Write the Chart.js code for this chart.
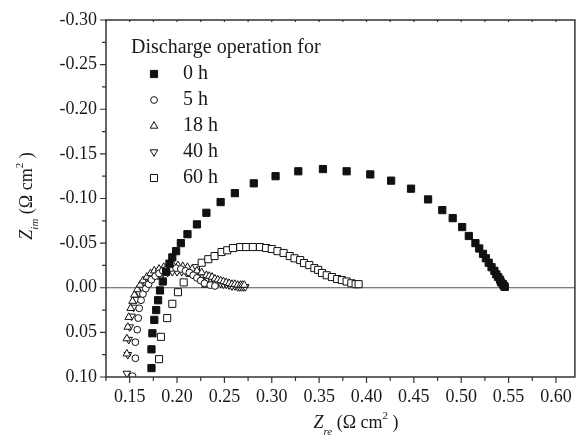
<!DOCTYPE html>
<html>
<head>
<meta charset="utf-8">
<script src="https://cdn.jsdelivr.net/npm/chart.js@4.4.1/dist/chart.umd.min.js"></script>
<style>
  html, body { margin: 0; padding: 0; background: #fff; }
</style>
</head>
<body>
<canvas id="nyquist" width="581" height="442"></canvas>
<script>
// Impedance spectra, [Zre, Zim] in ohm cm2 (Zim axis is drawn reversed)
const h0 = [
  [0.173, 0.090], [0.173, 0.069], [0.174, 0.051], [0.176, 0.036], [0.178, 0.025],
  [0.180, 0.014], [0.182, 0.003], [0.185, -0.007], [0.1885, -0.018], [0.192, -0.027],
  [0.195, -0.034], [0.199, -0.041], [0.204, -0.050], [0.211, -0.060], [0.221, -0.071],
  [0.231, -0.084], [0.246, -0.096], [0.261, -0.106], [0.281, -0.117], [0.304, -0.125],
  [0.328, -0.1305], [0.354, -0.133], [0.379, -0.1305], [0.404, -0.127], [0.426, -0.120],
  [0.447, -0.111], [0.465, -0.099], [0.480, -0.087], [0.491, -0.078], [0.501, -0.068],
  [0.508, -0.058], [0.515, -0.050], [0.519, -0.044], [0.523, -0.038], [0.526, -0.033],
  [0.529, -0.028], [0.532, -0.023], [0.535, -0.019], [0.537, -0.015], [0.539, -0.012],
  [0.541, -0.009], [0.542, -0.006], [0.544, -0.004], [0.545, -0.002], [0.546, -0.001]
];
const h5 = [
  [0.153, 0.099], [0.156, 0.079], [0.156, 0.061], [0.158, 0.047], [0.159, 0.034],
  [0.160, 0.023], [0.162, 0.014], [0.164, 0.007], [0.167, 0.001], [0.170, -0.004],
  [0.173, -0.009], [0.177, -0.013], [0.181, -0.016], [0.185, -0.019], [0.189, -0.021],
  [0.194, -0.022], [0.199, -0.022], [0.204, -0.021], [0.209, -0.019], [0.213, -0.017],
  [0.217, -0.014], [0.221, -0.011], [0.225, -0.008], [0.229, -0.005], [0.235, -0.003],
  [0.240, -0.002]
];
const h18 = [
  [0.147, 0.074], [0.147, 0.057], [0.148, 0.044], [0.149, 0.033], [0.151, 0.023],
  [0.153, 0.015], [0.155, 0.008], [0.158, 0.002], [0.161, -0.003], [0.164, -0.008],
  [0.168, -0.012], [0.172, -0.016], [0.176, -0.019], [0.181, -0.021], [0.186, -0.023],
  [0.191, -0.024], [0.196, -0.025], [0.201, -0.025], [0.206, -0.024], [0.211, -0.023],
  [0.216, -0.021], [0.221, -0.019], [0.226, -0.017], [0.230, -0.003], [0.231, -0.014],
  [0.234, -0.013], [0.237, -0.012], [0.240, -0.010], [0.243, -0.009], [0.246, -0.008],
  [0.249, -0.007], [0.252, -0.006], [0.255, -0.005], [0.258, -0.004], [0.261, -0.004],
  [0.264, -0.003], [0.267, -0.003], [0.269, -0.003], [0.271, -0.003]
];
const h40 = [
  [0.147, 0.096], [0.148, 0.075], [0.149, 0.058], [0.150, 0.044], [0.152, 0.032],
  [0.154, 0.022], [0.157, 0.013], [0.160, 0.006], [0.163, 0.000], [0.167, -0.005],
  [0.171, -0.009], [0.175, -0.012], [0.180, -0.014], [0.185, -0.016], [0.190, -0.017],
  [0.195, -0.018], [0.200, -0.018], [0.205, -0.018], [0.210, -0.017], [0.215, -0.016],
  [0.220, -0.015], [0.224, -0.013], [0.228, -0.012], [0.232, -0.010], [0.236, -0.009],
  [0.240, -0.007], [0.243, -0.006], [0.246, -0.005], [0.249, -0.004], [0.252, -0.004],
  [0.255, -0.003], [0.258, -0.002], [0.261, -0.002], [0.264, -0.001], [0.266, -0.001],
  [0.268, -0.001], [0.270, -0.001], [0.272, -0.001]
];
const h60 = [
  [0.181, 0.080], [0.183, 0.055], [0.1896, 0.034], [0.195, 0.018], [0.201, 0.005],
  [0.207, -0.006], [0.2135, -0.0165], [0.220, -0.022], [0.226, -0.028], [0.233, -0.032],
  [0.2396, -0.0355], [0.247, -0.040], [0.253, -0.042], [0.259, -0.0445], [0.2667, -0.0456],
  [0.273, -0.0456], [0.280, -0.0456], [0.2875, -0.0456], [0.294, -0.0445], [0.300, -0.0434],
  [0.306, -0.041], [0.3125, -0.039], [0.319, -0.0355], [0.324, -0.033], [0.330, -0.031],
  [0.334, -0.0277], [0.3396, -0.0254], [0.345, -0.022], [0.349, -0.020], [0.353, -0.0165],
  [0.358, -0.014], [0.3635, -0.012], [0.369, -0.0098], [0.374, -0.0086], [0.379, -0.007],
  [0.384, -0.005], [0.3885, -0.004], [0.3917, -0.004]
];

const seriesLabels = ['0 h', '5 h', '18 h', '40 h', '60 h'];
const legendTitle = 'Discharge operation for';
const xTickLabels = ['0.15', '0.20', '0.25', '0.30', '0.35', '0.40', '0.45', '0.50', '0.55', '0.60'];
const yTickLabels = ['-0.30', '-0.25', '-0.20', '-0.15', '-0.10', '-0.05', '0.00', '0.05', '0.10'];

const serif = '"Liberation Serif", "Times New Roman", serif';
const ink = '#1a1a1a';

const toPts = arr => arr.map(p => ({ x: p[0], y: p[1] }));

// marker looks, one per series
const markers = [
  { style: 'rect', radius: 5.1, rotation: 0, fill: '#111' },
  { style: 'circle', radius: 3.4, rotation: 0, fill: '#fff' },
  { style: 'triangle', radius: 4.4, rotation: 0, fill: '#fff' },
  { style: 'triangle', radius: 4.4, rotation: 180, fill: '#fff' },
  { style: 'rect', radius: 5.0, rotation: 0, fill: '#fff' }
];

const datasets = [h0, h5, h18, h40, h60].map((arr, i) => ({
  label: seriesLabels[i],
  data: toPts(arr),
  showLine: false,
  pointStyle: markers[i].style,
  pointRadius: markers[i].radius,
  pointRotation: markers[i].rotation,
  pointBackgroundColor: markers[i].fill,
  pointBorderColor: '#111',
  pointBorderWidth: 1
}));

const xMajor = xTickLabels.map(Number);
const yMajor = yTickLabels.map(Number);

function withMinors(major, min, max) {
  const out = [];
  const step = major[1] - major[0];
  const first = major[0] - step / 2;
  for (let v = first; v <= max + 1e-9; v += step / 2) {
    if (v >= min - 1e-9) out.push(Math.round(v * 1000) / 1000);
  }
  return out;
}
const isMajor = (v, list) => list.some(m => Math.abs(m - v) < 1e-6);

// hand made marker drawing for the legend
function drawMarker(ctx, m, x, y) {
  ctx.save();
  ctx.beginPath();
  ctx.fillStyle = m.fill;
  ctx.strokeStyle = '#111';
  ctx.lineWidth = 1;
  if (m.style === 'rect') {
    const s = Math.SQRT1_2 * m.radius;
    ctx.rect(x - s, y - s, 2 * s, 2 * s);
  } else if (m.style === 'circle') {
    ctx.arc(x, y, m.radius, 0, Math.PI * 2);
  } else {
    let a = m.rotation * Math.PI / 180;
    ctx.moveTo(x + Math.sin(a) * m.radius, y - Math.cos(a) * m.radius);
    a += 2 * Math.PI / 3;
    ctx.lineTo(x + Math.sin(a) * m.radius, y - Math.cos(a) * m.radius);
    a += 2 * Math.PI / 3;
    ctx.lineTo(x + Math.sin(a) * m.radius, y - Math.cos(a) * m.radius);
    ctx.closePath();
  }
  ctx.fill();
  ctx.stroke();
  ctx.restore();
}

// text made of pieces (sub/superscripts)
function drawPieces(ctx, parts, x, y) {
  let total = 0;
  parts.forEach(p => { ctx.font = p.font; p.w = ctx.measureText(p.t).width; total += p.w; });
  let cx = x - total / 2;
  parts.forEach(p => {
    ctx.font = p.font;
    ctx.fillText(p.t, cx, y + (p.dy || 0));
    cx += p.w;
  });
}

const decor = {
  id: 'decor',
  beforeDatasetsDraw(chart) {
    const { ctx, chartArea: a, scales } = chart;
    const y0 = scales.y.getPixelForValue(0);
    ctx.save();
    ctx.strokeStyle = '#555';
    ctx.lineWidth = 1;
    ctx.beginPath();
    ctx.moveTo(a.left, y0);
    ctx.lineTo(a.right, y0);
    ctx.stroke();
    ctx.restore();
  },
  afterDraw(chart) {
    const { ctx, chartArea: a, scales } = chart;
    ctx.save();
    // frame
    ctx.strokeStyle = '#333';
    ctx.lineWidth = 1.5;
    ctx.strokeRect(a.left, a.top, a.right - a.left, a.bottom - a.top);

    // outward ticks on the left and bottom axes
    ctx.lineWidth = 1.2;
    ctx.beginPath();
    scales.x.ticks.forEach(t => {
      const px = scales.x.getPixelForValue(t.value);
      const len = isMajor(t.value, xMajor) ? 6 : 4;
      ctx.moveTo(px, a.bottom);
      ctx.lineTo(px, a.bottom + len);
      ctx.moveTo(px, a.top);
      ctx.lineTo(px, a.top + 2);
    });
    scales.y.ticks.forEach(t => {
      const py = scales.y.getPixelForValue(t.value);
      const len = isMajor(t.value, yMajor) ? 6 : 4;
      ctx.moveTo(a.left, py);
      ctx.lineTo(a.left - len, py);
    });
    ctx.stroke();

    // legend
    ctx.fillStyle = ink;
    ctx.textBaseline = 'middle';
    ctx.textAlign = 'left';
    ctx.font = '20px ' + serif;
    ctx.fillText(legendTitle, 131, 48);
    seriesLabels.forEach((lab, i) => {
      const yy = 74 + i * 26;
      drawMarker(ctx, markers[i], 154, yy);
      ctx.fillStyle = ink;
      ctx.font = '20px ' + serif;
      ctx.fillText(lab, 183, yy);
    });

    // axis titles
    ctx.textBaseline = 'alphabetic';
    ctx.fillStyle = ink;
    const big = '18px ' + serif;
    const it = 'italic 18px ' + serif;
    const small = '11px ' + serif;
    const smallIt = 'italic 11px ' + serif;
    drawPieces(ctx, [
      { t: 'Z', font: it },
      { t: 're', font: smallIt, dy: 7 },
      { t: ' (\u03A9 cm', font: big },
      { t: '2', font: small, dy: -9 },
      { t: ' )', font: big }
    ], 356, 428);

    ctx.translate(32, 196);
    ctx.rotate(-Math.PI / 2);
    drawPieces(ctx, [
      { t: 'Z', font: it },
      { t: 'im', font: smallIt, dy: 6 },
      { t: ' (\u03A9 cm', font: big },
      { t: '2', font: small, dy: -9 },
      { t: ' )', font: big }
    ], 0, 0);
    ctx.restore();
  }
};

new Chart(document.getElementById('nyquist'), {
  type: 'scatter',
  data: { datasets },
  options: {
    responsive: false,
    animation: false,
    devicePixelRatio: 1,
    layout: { padding: { top: 20, right: 0, left: 0, bottom: 0 } },
    plugins: { legend: { display: false }, tooltip: { enabled: false } },
    scales: {
      x: {
        type: 'linear',
        min: 0.125,
        max: 0.62,
        grid: { display: false, drawTicks: false },
        border: { display: false },
        afterBuildTicks: s => { s.ticks = withMinors(xMajor, s.min, s.max).map(v => ({ value: v })); },
        afterFit: s => { s.height = 65; },
        ticks: {
          autoSkip: false,
          maxRotation: 0,
          padding: 9,
          color: ink,
          font: { family: serif, size: 18 },
          callback: v => isMajor(v, xMajor) ? xTickLabels[xMajor.findIndex(m => Math.abs(m - v) < 1e-6)] : ''
        }
      },
      y: {
        type: 'linear',
        reverse: true,
        min: -0.30,
        max: 0.10,
        grid: { display: false, drawTicks: false },
        border: { display: false },
        afterBuildTicks: s => { s.ticks = withMinors(yMajor, s.min, s.max).map(v => ({ value: v })); },
        afterFit: s => { s.width = 106; },
        ticks: {
          autoSkip: false,
          padding: 9,
          color: ink,
          font: { family: serif, size: 18 },
          callback: v => isMajor(v, yMajor) ? yTickLabels[yMajor.findIndex(m => Math.abs(m - v) < 1e-6)] : ''
        }
      }
    }
  },
  plugins: [decor]
});
</script>
</body>
</html>
